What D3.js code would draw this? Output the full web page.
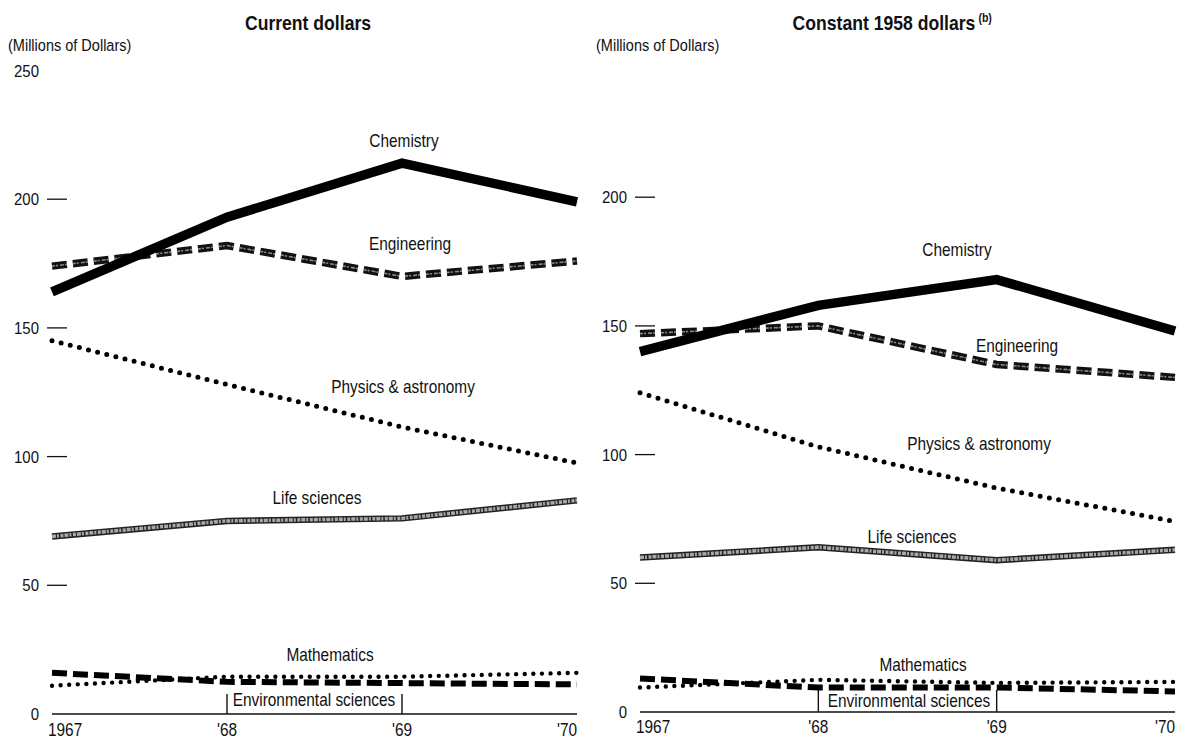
<!DOCTYPE html>
<html>
<head>
<meta charset="utf-8">
<script src="https://cdn.jsdelivr.net/npm/d3@7"></script>
<style>
  body { margin: 0; background: #fff; }
  svg { display: block; }
  text { font-family: "Liberation Sans", Arial, sans-serif; fill: #111; }
</style>
</head>
<body>
<div id="canvas"></div>
<script>
// years on the x axis
const years = [1967, 1968, 1969, 1970];
const yearLabels = ["1967", "'68", "'69", "'70"];
const tickValues = [0, 50, 100, 150, 200];

// current dollars (millions)
const curChemistry = [164, 193, 214, 199];
const curEngineering = [174, 182, 170, 176];
const curPhysics = [145, 128, 111.5, 97.5];
const curLife = [69, 75, 76, 83];
const curMath = [11, 14.5, 14.5, 16];
const curEnv = [16, 12.5, 12, 11.5];

// constant 1958 dollars (millions)
const conChemistry = [140, 158, 168, 148];
const conEngineering = [147, 150, 135, 130];
const conPhysics = [124, 103, 87, 74];
const conLife = [60, 64, 59, 63];
const conMath = [9.5, 12.5, 11.3, 11.7];
const conEnv = [13, 9.5, 9.5, 8];

let drawing = d3.select("#canvas")
    .append("svg")
    .attr("width", 1193)
    .attr("height", 740);

// condensed-looking text: squeeze horizontally
function addText(g, x, y, str, size, anchor, weight) {
    return g.append("text")
        .attr("transform", "translate(" + x + "," + y + ") scale(0.88,1)")
        .attr("text-anchor", anchor || "start")
        .attr("font-size", size)
        .attr("font-weight", weight || "normal")
        .text(str);
}

// draws one panel
function drawPanel(p) {
    let x = d3.scaleLinear().domain([1967, 1970]).range([p.left, p.right]);
    let y = d3.scaleLinear().domain([0, 250]).range([p.base, p.base - 250 * 2.574]);
    let g = drawing.append("g");

    let title = addText(g, p.titleX, 30, p.title, 20, "middle", "bold");
    if (p.sup) {
        let w = title.node().getComputedTextLength() * 0.88;
        addText(g, p.titleX + w / 2 + 3, 22, p.sup, 12, "start", "bold");
    }
    addText(g, p.left - 44, 51, "(Millions of Dollars)", 16.5);

    // y ticks: label then short dash
    let ticks = p.top250 ? tickValues.concat([250]) : tickValues;
    ticks.forEach(function (v) {
        addText(g, p.left - 13, y(v) + 6, v, 17, "end");
        if (v > 0 && v < 250) {
            g.append("line")
                .attr("x1", p.left - 5).attr("x2", p.left + 15)
                .attr("y1", y(v)).attr("y2", y(v))
                .attr("stroke", "#111").attr("stroke-width", 1.3);
        }
    });

    // baseline
    g.append("line")
        .attr("x1", x(1967)).attr("x2", x(1970))
        .attr("y1", y(0)).attr("y2", y(0))
        .attr("stroke", "#111").attr("stroke-width", 1.6);

    // bracket around environmental sciences label
    [1968, 1969].forEach(function (yr) {
        g.append("line")
            .attr("x1", x(yr)).attr("x2", x(yr))
            .attr("y1", y(0) - p.brk).attr("y2", y(0))
            .attr("stroke", "#111").attr("stroke-width", 1.4);
    });

    // year labels
    years.forEach(function (yr, i) {
        addText(g, x(yr) + (i == 0 ? -4 : 0), p.yearY, yearLabels[i], 17.5,
            i == 0 ? "start" : (i == 3 ? "end" : "middle"));
    });

    let line = d3.line()
        .x(function (d, i) { return x(years[i]); })
        .y(function (d) { return y(d); });

    function path(vals, stroke, width, dash, cap) {
        g.append("path")
            .attr("d", line(vals))
            .attr("fill", "none")
            .attr("stroke", stroke)
            .attr("stroke-width", width)
            .attr("stroke-dasharray", dash || null)
            .attr("stroke-linecap", cap || "butt")
            .attr("stroke-linejoin", "miter");
    }

    // life sciences: outlined grey band
    path(p.life, "#222", 6.5);
    path(p.life, "#a8a8a8", 3.5, "4,1,2,1.5,3,1");

    // engineering: textured dashes
    path(p.eng, "#111", 7.5, "15,6");
    path(p.eng, "#888", 1.6, "3,1,2,2,4,1,2,6");

    // chemistry: heavy solid
    path(p.chem, "#000", 9.5);

    // physics: round dots
    path(p.phys, "#000", 5, "0,9.4", "round");

    // environmental sciences: heavy dashes
    path(p.env, "#000", 6, "15,6");

    // mathematics: small dots
    path(p.math, "#000", 4.4, "0,8.6", "round");

    // series labels
    p.labels.forEach(function (l) {
        addText(g, l[1], l[2], l[0], 17.5, "middle");
    });
}

drawPanel({
    left: 52, right: 577, base: 714,
    title: "Current dollars", titleX: 308, top250: true, brk: 20, yearY: 736,
    chem: curChemistry, eng: curEngineering, phys: curPhysics,
    life: curLife, math: curMath, env: curEnv,
    labels: [
        ["Chemistry", 404, 147],
        ["Engineering", 410, 250],
        ["Physics & astronomy", 403, 393],
        ["Life sciences", 317, 504],
        ["Mathematics", 330, 661],
        ["Environmental sciences", 314, 706]
    ]
});

drawPanel({
    left: 640, right: 1175, base: 712,
    title: "Constant 1958 dollars", titleX: 884, sup: "(b)", top250: false, brk: 22, yearY: 733,
    chem: conChemistry, eng: conEngineering, phys: conPhysics,
    life: conLife, math: conMath, env: conEnv,
    labels: [
        ["Chemistry", 957, 256],
        ["Engineering", 1017, 352],
        ["Physics & astronomy", 979, 450],
        ["Life sciences", 912, 543],
        ["Mathematics", 923, 671],
        ["Environmental sciences", 909, 707]
    ]
});
</script>
</body>
</html>
